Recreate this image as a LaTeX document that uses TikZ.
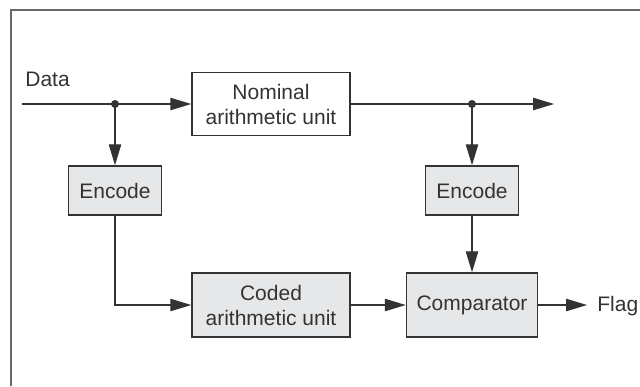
\documentclass[tikz,border=0pt]{standalone}
\usepackage{fontspec}
\setmainfont{Liberation Sans}
\usepackage{xcolor}
\usepackage{tikz}
\usetikzlibrary{positioning, arrows.meta}
\definecolor{boxgray}{HTML}{E6E7E8}
\definecolor{linegray}{HTML}{333333}
\definecolor{framegray}{HTML}{6A6A6A}

\tikzset{
  unitbox/.style={draw=linegray, line width=0.75pt, align=center, inner sep=0pt,
    font=\fontsize{10.5}{12.5}\selectfont, text=linegray},
  shadedbox/.style={unitbox, fill=boxgray},
  flow/.style={draw=linegray, line width=0.65pt,
    -{Triangle[length=10.5pt, width=6.2pt]}},
  wire/.style={draw=linegray, line width=0.65pt},
  tag/.style={inner sep=0pt, font=\fontsize{10.5}{12.5}\selectfont, text=linegray},
}

\begin{document}
\begin{tikzpicture}[x=0.5pt, y=-0.5pt]
    \useasboundingbox (0,0) rectangle (640,386);
    % outer frame (cropped)
    \draw[framegray, line width=0.75pt] (11,386) -- (11,10) -- (640,10);

    % blocks
    \node[unitbox, minimum width=79pt, minimum height=31.5pt] (nominal) at (271,104)
      {Nominal\\arithmetic unit};
    \node[shadedbox, minimum width=46.5pt, minimum height=24.5pt] (enc1) at (115,190.5) {Encode};
    \node[shadedbox, minimum width=46.5pt, minimum height=24.5pt] (enc2) at (472,190.5) {Encode};
    \node[shadedbox, minimum width=79pt, minimum height=32pt] (coded) at (271,305)
      {Coded\\arithmetic unit};
    \node[shadedbox, minimum width=65.5pt, minimum height=32pt] (comp) at (472,305) {Comparator};

    % labels
    \node[tag, anchor=base west] (data) at (25,86) {Data};
    \node[tag, anchor=base west] (flag) at (597,311) {Flag};

    % wiring
    \coordinate (in) at (22,104);
    \coordinate (split1) at (115,104);
    \coordinate (split2) at (472,104);
    \coordinate (out) at (554,104);
    \coordinate (flagend) at (587,305);

    \draw[flow] (in) -- (nominal.west);
    \draw[flow] (split1) -- (enc1);
    \draw[flow] (enc1) |- (coded);
    \draw[flow] (coded) -- (comp);
    \draw[flow] (nominal) -- (out);
    \draw[flow] (split2) -- (enc2);
    \draw[flow] (enc2) -- (comp);
    \draw[flow] (comp) -- (flagend);

    \fill[linegray] (split1) circle (2pt);
    \fill[linegray] (split2) circle (2pt);
\end{tikzpicture}
\end{document}
